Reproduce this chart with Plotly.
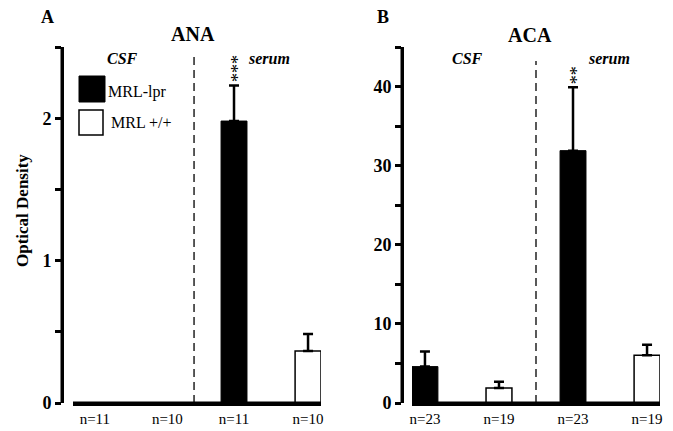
import plotly.graph_objects as go

# ---- data ----
groups = ["CSF", "serum"]
ana_lpr = [None, 1.98]
ana_lpr_err = [None, 0.25]
ana_wt = [None, 0.365]
ana_wt_err = [None, 0.12]
aca_lpr = [4.6, 31.9]
aca_lpr_err = [1.9, 8.0]
aca_wt = [1.9, 6.05]
aca_wt_err = [0.8, 1.3]
ana_n = ["n=11", "n=10", "n=11", "n=10"]
aca_n = ["n=23", "n=19", "n=23", "n=19"]
ana_ticks = [0, 0.5, 1, 1.5, 2, 2.5]
ana_ticklabels = ["0", "", "1", "", "2", ""]
aca_ticks = [0, 5, 10, 15, 20, 25, 30, 35, 40, 45]
aca_ticklabels = ["0", "", "10", "", "20", "", "30", "", "40", ""]
ana_stars = "***"
aca_stars = "**"

W, H = 673, 431
def px(x): return x / W
def py(y): return 1 - y / H

SERIF = "Liberation Serif, Times New Roman, serif"
lpr_x = [0, 2]
wt_x = [1, 3]
BW = 0.35

fig = go.Figure()

def add_panel(xa, ya, lpr, lpr_err, wt, wt_err):
    fig.add_trace(go.Bar(
        x=lpr_x, y=lpr, width=BW, xaxis=xa, yaxis=ya, name="MRL-lpr",
        marker=dict(color="black", line=dict(color="black", width=1)),
        error_y=dict(type="data", array=lpr_err, arrayminus=[0] * len(lpr_err),
                     symmetric=False, color="black", thickness=2.5, width=5),
        showlegend=False))
    fig.add_trace(go.Bar(
        x=wt_x, y=wt, width=BW, xaxis=xa, yaxis=ya, name="MRL +/+",
        marker=dict(color="white", line=dict(color="black", width=1.5)),
        error_y=dict(type="data", array=wt_err, arrayminus=[0] * len(wt_err),
                     symmetric=False, color="black", thickness=2.5, width=5),
        showlegend=False))

add_panel("x", "y", ana_lpr, ana_lpr_err, ana_wt, ana_wt_err)
add_panel("x2", "y2", aca_lpr, aca_lpr_err, aca_wt, aca_wt_err)

ydom = [py(403), py(47)]
xcommon = dict(range=[-BW / 2, 3 + BW / 2], showline=True, linewidth=3, linecolor="black",
               ticks="", automargin=False, showgrid=False, zeroline=False,
               ticklabelstandoff=0,
               tickfont=dict(family=SERIF, size=15, color="black"))
ycommon = dict(domain=ydom, anchor="free", showline=True, linewidth=3, linecolor="black",
               ticks="outside", ticklen=6, tickwidth=3, tickcolor="black",
               automargin=False, showgrid=False, zeroline=False,
               tickfont=dict(family=SERIF, size=18, color="black", weight="bold"))

fig.update_layout(
    template="none",
    width=W, height=H,
    margin=dict(l=0, r=0, t=0, b=0),
    barmode="overlay",
    xaxis=dict(domain=[px(73), px(321)], anchor="y",
               tickvals=[0.12, 1.1, 2, 3], ticktext=ana_n, **xcommon),
    yaxis=dict(range=[0, 2.5], position=px(62), tickvals=ana_ticks,
               ticktext=ana_ticklabels, **ycommon),
    xaxis2=dict(domain=[px(412), px(660)], anchor="y2",
                tickvals=[0, 1, 2, 3], ticktext=aca_n, **xcommon),
    yaxis2=dict(range=[0, 45], position=px(402), tickvals=aca_ticks,
                ticktext=aca_ticklabels, **ycommon),
)

def txt(x, y, s, size, bold=True, italic=False, xanchor="center", angle=0):
    fig.add_annotation(xref="paper", yref="paper", x=px(x), y=py(y), text=s,
                       showarrow=False, xanchor=xanchor, yanchor="middle",
                       textangle=angle,
                       font=dict(family=SERIF, size=size, color="black",
                                 weight="bold" if bold else "normal",
                                 style="italic" if italic else "normal"))

txt(47, 17, "A", 18)
txt(193, 34, "ANA", 20)
txt(383, 17, "B", 18)
txt(530, 35, "ACA", 20)
txt(122, 58, groups[0], 16, italic=True)
txt(269, 58, groups[1], 16, italic=True)
txt(467, 58, groups[0], 16, italic=True)
txt(609, 58, groups[1], 16, italic=True)
txt(22, 211, "Optical Density", 17, angle=-90)
txt(106, 92, "MRL-lpr", 16, bold=False, xanchor="left")
txt(109, 123, "MRL +/+", 16, bold=False, xanchor="left")

# significance stars above serum MRL-lpr bars (stacked vertically)
fig.add_annotation(xref="x", yref="y", x=lpr_x[1], y=ana_lpr[1] + ana_lpr_err[1],
                   text=ana_stars, showarrow=False, yanchor="bottom", textangle=-90,
                   yshift=1, xshift=4, font=dict(family=SERIF, size=18, color="black"))
fig.add_annotation(xref="x2", yref="y2", x=lpr_x[1], y=aca_lpr[1] + aca_lpr_err[1],
                   text=aca_stars, showarrow=False, yanchor="bottom", textangle=-90,
                   yshift=1, xshift=4, font=dict(family=SERIF, size=18, color="black"))

# bold axis lines (drawn over the axes in domain coordinates)
axis_line = dict(color="black", width=3)
for xa, ya, ypos in (("x", "y", px(62)), ("x2", "y2", px(402))):
    fig.add_shape(type="line", xref=f"{xa} domain", yref=f"{ya} domain",
                  x0=0, x1=1, y0=0, y1=0, line=axis_line)
    fig.add_shape(type="line", xref="paper", yref=f"{ya} domain",
                  x0=ypos, x1=ypos, y0=0, y1=1, line=axis_line)

# legend swatches
fig.add_shape(type="rect", xref="paper", yref="paper", x0=px(79), x1=px(105),
              y0=py(102), y1=py(76), fillcolor="black", line=dict(color="black", width=1))
fig.add_shape(type="rect", xref="paper", yref="paper", x0=px(79), x1=px(103),
              y0=py(135), y1=py(110), fillcolor="white", line=dict(color="black", width=1.5))

# CSF / serum separators
sep = (wt_x[0] + lpr_x[1]) / 2
fig.add_shape(type="line", xref="x", yref="paper", x0=sep - 0.04, x1=sep - 0.04,
              y0=ydom[0], y1=py(52), line=dict(color="black", width=1.3, dash="8px,5px"))
fig.add_shape(type="line", xref="x2", yref="paper", x0=sep, x1=sep,
              y0=ydom[0], y1=py(61), line=dict(color="black", width=1.3, dash="8px,5px"))

fig.write_html("out.html", config={"displayModeBar": False},
               post_script="document.body.style.margin='0px';document.body.style.overflow='hidden';")
